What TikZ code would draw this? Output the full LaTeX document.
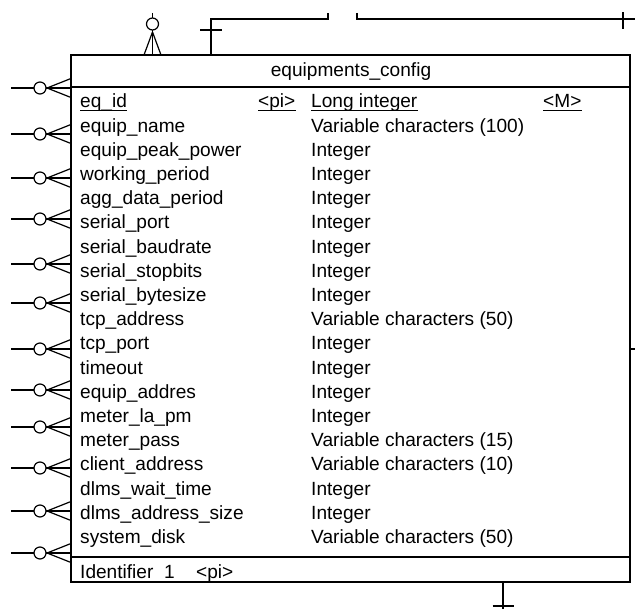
\documentclass[tikz,border=0pt]{standalone}
\usepackage{fontspec}
\setmainfont{Liberation Sans}
\begin{document}
\begin{tikzpicture}[x=1pt,y=-1pt,
  lw/.style={line width=1.2pt},
  txt/.style={anchor=base west, inner sep=0pt, font=\fontsize{19.1}{22}\selectfont},
  uline/.style={line width=1pt},
  tick/.style={line width=1.2pt}]
\useasboundingbox (0,0) rectangle (635,609);

% entity box
\node[draw, lw, anchor=north west, minimum width=559pt, minimum height=527pt,
      inner sep=0pt, outer sep=0pt] (ent) at (71,55) {};
\coordinate (sepA) at (71,87);
\coordinate (sepB) at (630,87);
\coordinate (sepC) at (71,557);
\coordinate (sepD) at (630,557);
\draw[lw] (sepA) -- (sepB);
\draw[lw] (sepC) -- (sepD);

% title
\node[txt, anchor=base] (title) at (351,77) {equipments\_config};

% key row
\node[txt] (k1) at (80,108) {eq\_id};
\node[txt] (k2) at (258,108) {<pi>};
\node[txt] (k3) at (311,108) {Long integer};
\node[txt] (k4) at (543,108) {<M>};
\foreach \k in {k1,k2,k3,k4}
  \draw[uline] ([yshift=-3pt]\k.base west) -- ([yshift=-3pt]\k.base east);

% attribute rows
\foreach \nm/\ty [count=\i from 1] in {
  equip\_name/Variable characters (100),
  equip\_peak\_power/Integer,
  working\_period/Integer,
  agg\_data\_period/Integer,
  serial\_port/Integer,
  serial\_baudrate/Integer,
  serial\_stopbits/Integer,
  serial\_bytesize/Integer,
  tcp\_address/Variable characters (50),
  tcp\_port/Integer,
  timeout/Integer,
  equip\_addres/Integer,
  meter\_la\_pm/Integer,
  meter\_pass/Variable characters (15),
  client\_address/Variable characters (10),
  dlms\_wait\_time/Integer,
  dlms\_address\_size/Integer,
  system\_disk/Variable characters (50)} {
  \node[txt] (f\i) at (80,108+24.2*\i) {\nm};
  \node[txt] (t\i) at (311,108+24.2*\i) {\ty};
}

% identifier row
\node[txt] (id1) at (80,579) {Identifier};
\node[txt] (id2) at (164,579) {1};
\node[txt] (id3) at (196,579) {<pi>};

% left relationships: crow's foot with optional circle
\foreach \yy [count=\j] in {88,134,178,219,264,303,349,390,427,468,511,553} {
  \coordinate (Lb\j) at (71,\yy);
  \coordinate (Le\j) at (11,\yy);
  \coordinate (Lc\j) at (40,\yy);
  \draw[lw] (Le\j) -- ([xshift=-6pt]Lc\j);
  \draw[lw] (Lc\j) circle (6pt);
  \draw[lw] ([xshift=6pt]Lc\j) -- (Lb\j);
  \draw[lw] ([xshift=7pt]Lc\j) -- ([yshift=9.5pt]Lb\j);
  \draw[lw] ([xshift=7pt]Lc\j) -- ([yshift=-9.5pt]Lb\j);
}

% top relationship: crow's foot with circle
\coordinate (Tb) at (152.5,55);
\coordinate (Te) at (152.5,13);
\coordinate (Tc) at (152.5,24);
\draw[lw] (Te) -- ([yshift=6pt]Tc);
\draw[lw] (Tc) circle (6pt);
\draw[lw] ([yshift=-6pt]Tc) -- (Tb);
\draw[lw] ([yshift=-8pt]Tc) -- ([xshift=-8.5pt]Tb);
\draw[lw] ([yshift=-8pt]Tc) -- ([xshift=8.5pt]Tb);

% top relationship: one, bending right
\coordinate (Ub) at (211,55);
\coordinate (Uk) at (211,30);
\coordinate (Ue) at (328,13);
\draw[lw] (Ub) |- (328,19) -- (Ue);
\draw[tick] ([xshift=-11pt]Uk) -- ([xshift=11pt]Uk);

% top right relationship leaving the picture
\coordinate (Vs) at (357,13);
\coordinate (Ve) at (635,19);
\coordinate (Vk) at (623,20.5);
\draw[lw] (Vs) |- (Ve);
\draw[tick] ([yshift=-8.5pt]Vk) -- ([yshift=8.5pt]Vk);

% right stub
\coordinate (Rb) at (630,349);
\coordinate (Re) at (635,349);
\draw[lw] (Rb) -- (Re);

% bottom relationship: one
\coordinate (Bb) at (503,582);
\coordinate (Be) at (503,609);
\coordinate (Bk) at (503,606);
\draw[lw] (Bb) -- (Be);
\draw[tick] ([xshift=-10.5pt]Bk) -- ([xshift=10.5pt]Bk);
\end{tikzpicture}
\end{document}
